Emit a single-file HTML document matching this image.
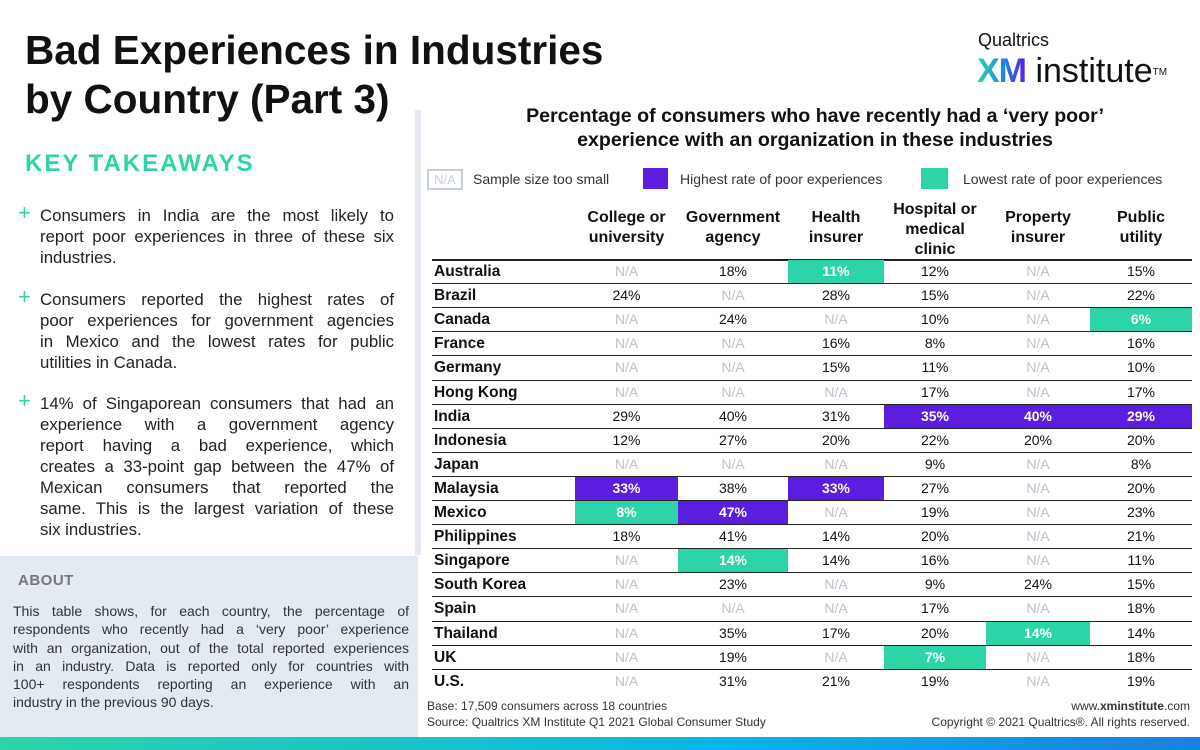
<!DOCTYPE html>
<html><head><meta charset="utf-8">
<style>
*{margin:0;padding:0;box-sizing:border-box}
body{width:1200px;height:750px;position:relative;background:#fff;font-family:"Liberation Sans",sans-serif;color:#111;overflow:hidden}
.abs{position:absolute}
#title{left:25px;top:26px;font-size:40.5px;font-weight:bold;line-height:49px;color:#111;white-space:nowrap}
#kt{left:25px;top:150px;font-size:24px;font-weight:bold;letter-spacing:2px;color:#2dd4a7}
.bul{position:absolute;left:40px;width:354px;font-size:16.8px;line-height:21px;color:#222}
.j{display:block;text-align:justify;text-align-last:justify}
.l{display:block}
.plus{position:absolute;left:-22px;top:-3px;color:#2dd4a7;font-size:22px}
#divider{left:415px;top:110px;width:6px;height:445px;background:#e6e9ed}
#about{left:0;top:556px;width:418px;height:181px;background:#e3eaf2}
#about h3{position:absolute;left:18px;top:16px;font-size:15px;color:#777;letter-spacing:0.5px}
#about p{position:absolute;left:13px;top:46px;width:396px;font-size:14px;line-height:18.3px;color:#333}
#bar{left:0;top:737px;width:1200px;height:13px;background:linear-gradient(90deg,#2dd4a7,#0bb5e6 60%,#1a7fe0)}
#subtitle{left:415px;top:104px;width:800px;text-align:center;font-size:19.6px;font-weight:bold;line-height:24px}
.leg{position:absolute;top:171px;font-size:14px;color:#333}
.sw{position:absolute;top:168px;width:25px;height:21px}
.hdr{position:absolute;top:208px;font-size:16px;font-weight:bold;text-align:center;line-height:20px;transform:translateX(-50%);white-space:nowrap}
.cell{position:absolute;font-size:14px;text-align:center}
.na{color:#bcc4cc}
.hl{color:#fff;font-weight:bold}
.cname{position:absolute;left:434px;font-size:15.5px;font-weight:bold}
.line{position:absolute;left:432px;width:760px;height:1px;background:#222}
#foot1{left:427px;top:698px;font-size:12px;color:#333;line-height:16px}
#foot2{left:880px;top:698px;width:310px;text-align:right;font-size:12px;color:#333;line-height:16px}
</style></head><body>
<div class="abs" id="title">Bad Experiences in Industries<br>by Country (Part 3)</div>
<div class="abs" id="kt">KEY TAKEAWAYS</div>
<div class="bul" style="top:205px"><span class="plus">+</span><span class="j">Consumers in India are the most likely to</span><span class="j">report poor experiences in three of these six</span><span class="l">industries.</span></div>
<div class="bul" style="top:289px"><span class="plus">+</span><span class="j">Consumers reported the highest rates of</span><span class="j">poor experiences for government agencies</span><span class="j">in Mexico and the lowest rates for public</span><span class="l">utilities in Canada.</span></div>
<div class="bul" style="top:393px"><span class="plus">+</span><span class="j">14% of Singaporean consumers that had an</span><span class="j">experience with a government agency</span><span class="j">report having a bad experience, which</span><span class="j">creates a 33-point gap between the 47% of</span><span class="j">Mexican consumers that reported the</span><span class="j">same. This is the largest variation of these</span><span class="l">six industries.</span></div>
<div class="abs" id="divider"></div>
<div class="abs" id="about"><h3>ABOUT</h3><p><span class="j">This table shows, for each country, the percentage of</span><span class="j">respondents who recently had a ‘very poor’ experience</span><span class="j">with an organization, out of the total reported experiences</span><span class="j">in an industry. Data is reported only for countries with</span><span class="j">100+ respondents reporting an experience with an</span><span class="l">industry in the previous 90 days.</span></p></div>
<div class="abs" id="bar"></div>

<div class="abs" style="left:978px;top:30px;font-size:18px;color:#111">Qualtrics</div>
<div class="abs" style="left:977px;top:52px;font-size:34px;line-height:38px;color:#111;white-space:nowrap"><b style="background:linear-gradient(90deg,#2dd4a7,#1a8fe0,#5b1de0);-webkit-background-clip:text;background-clip:text;color:transparent;letter-spacing:-1px">XM</b> institute<sup style="font-size:10px;vertical-align:top;position:relative;top:2px">TM</sup></div>

<div class="abs" id="subtitle">Percentage of consumers who have recently had a ‘very poor’<br>experience with an organization in these industries</div>
<div class="abs" style="left:427px;top:169px;width:36px;height:21px;border:2px solid #c8cfd6;color:#c8cfd6;font-size:13px;text-align:center;line-height:18px">N/A</div>
<div class="leg" style="left:473px">Sample size too small</div>
<div class="sw" style="left:643px;background:#5b1de0"></div>
<div class="leg" style="left:680px">Highest rate of poor experiences</div>
<div class="sw" style="left:921px;width:27px;background:#2dd4a7"></div>
<div class="leg" style="left:963px">Lowest rate of poor experiences</div>

<div id="table"></div>

<div class="abs" id="foot1">Base: 17,509 consumers across 18 countries<br>Source: Qualtrics XM Institute Q1 2021 Global Consumer Study</div>
<div class="abs" id="foot2">www.<b>xminstitute</b>.com<br>Copyright © 2021 Qualtrics®. All rights reserved.</div>

<script>
const industries = ["College or<br>university","Government<br>agency","Health<br>insurer","Hospital or<br>medical<br>clinic","Property<br>insurer","Public<br>utility"];
const countries = ["Australia","Brazil","Canada","France","Germany","Hong Kong","India","Indonesia","Japan","Malaysia","Mexico","Philippines","Singapore","South Korea","Spain","Thailand","UK","U.S."];
const college = [null,24,null,null,null,null,29,12,null,33,8,18,null,null,null,null,null,null];
const government = [18,null,24,null,null,null,40,27,null,38,47,41,14,23,null,35,19,31];
const healthIns = [11,28,null,16,15,null,31,20,null,33,null,14,14,null,null,17,null,21];
const hospital = [12,15,10,8,11,17,35,22,9,27,19,20,16,9,17,20,7,19];
const propertyIns = [null,null,null,null,null,null,40,20,null,null,null,null,null,24,null,14,null,null];
const utility = [15,22,6,16,10,17,29,20,8,20,23,21,11,15,18,14,18,19];
const highest = [[9],[10],[9],[6],[6],[6]];
const lowest = [[10],[12],[0],[16],[15],[2]];
const seriesList = [college,government,healthIns,hospital,propertyIns,utility];

const colEdges=[575,678,788,884,986,1090,1192];
const top0=259, rowH=24.1;
const T=document.getElementById('table');
industries.forEach((name,j)=>{
  const h=document.createElement('div');
  
  
  h.className='hdr';
  h.style.left=((colEdges[j]+colEdges[j+1])/2)+'px';
  h.style.top=(name.split('<br>').length===3?200:208)+'px';
  h.innerHTML=name;
  T.appendChild(h);
});
countries.forEach((c,i)=>{
  const y=top0+i*rowH;
  const ln=document.createElement('div');
  
  
  ln.className='line';ln.style.top=y+'px';
  if(i===0)ln.style.height='1.5px';
  T.appendChild(ln);
  const n=document.createElement('div');
  
  
  n.className='cname';n.style.top=(y+4)+'px';n.textContent=c;
  T.appendChild(n);
  seriesList.forEach((s,j)=>{
    const v=s[i];
    const d=document.createElement('div');
    
    
    d.className='cell';
    d.style.left=colEdges[j]+'px';d.style.width=(colEdges[j+1]-colEdges[j])+'px';
    d.style.top=(y+1)+'px';d.style.height=(rowH-1)+'px';d.style.lineHeight=(rowH-1)+'px';
    if(v===null){d.classList.add('na');d.textContent='N/A';}
    else{
      d.textContent=v+'%';
      if(highest[j].includes(i)){d.classList.add('hl');d.style.background='#5b1de0';}
      else if(lowest[j].includes(i)){d.classList.add('hl');d.style.background='#2dd4a7';}
    }
    T.appendChild(d);
  });
});
</script>
</body></html>
